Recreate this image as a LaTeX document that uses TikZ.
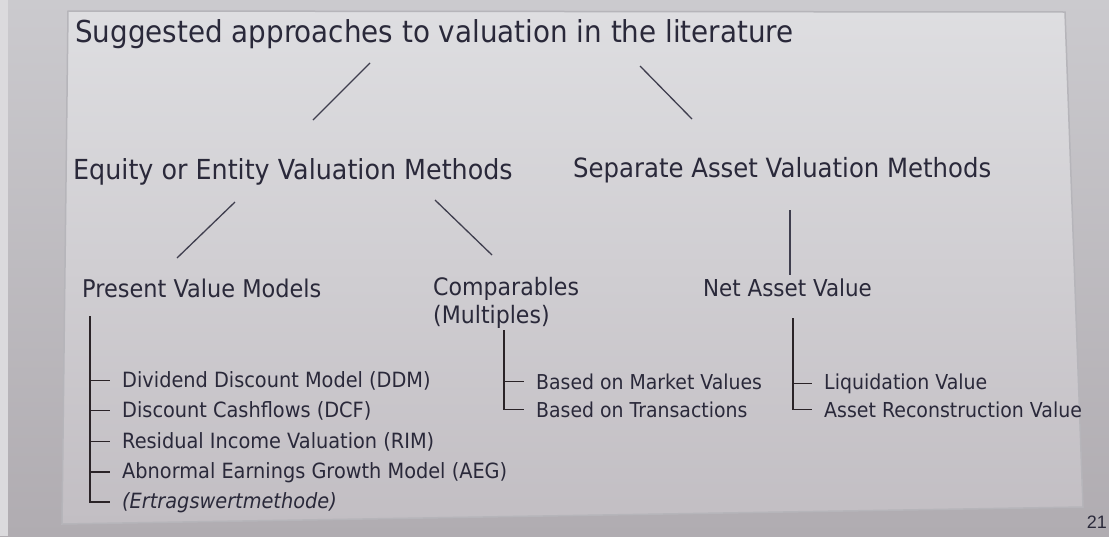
\documentclass[tikz,border=0pt]{standalone}
\usepackage{fontspec}
\setmainfont[FakeStretch=0.92]{DejaVu Sans}
\newfontfamily\pagenofont{Liberation Sans}

\definecolor{wall}{HTML}{CBCACE}
\definecolor{wallbot}{HTML}{B0ACB1}
\definecolor{slidetop}{HTML}{DEDEE1}
\definecolor{slidebot}{HTML}{C2BEC3}
\definecolor{rim}{HTML}{B6B5BA}
\definecolor{ink}{HTML}{2A293A}
\definecolor{wire}{HTML}{2A2327}

\tikzset{
    label/.style={anchor=base west, inner sep=0pt, text=ink},
    heading/.style={label, font=\fontsize{30.2}{36}\selectfont},
    method/.style={label, font=\fontsize{26.5}{32}\selectfont},
    model/.style={label, font=\fontsize{24}{29}\selectfont},
    item/.style={label, font=\fontsize{21}{25}\selectfont},
    link/.style={draw=ink!90, line width=1.3pt},
    branch/.style={draw=wire, line width=1.6pt}
}

\begin{document}
\begin{tikzpicture}[x=1pt, y=-1pt]
    \useasboundingbox (0,0) rectangle (1109,536);
    \shade[top color=wall, bottom color=wallbot] (0,0) rectangle (1109,536);
    \fill[wall!70!white] (0,0) rectangle (8,536);
    \shade[top color=slidetop, bottom color=slidebot, draw=rim, line width=1.5pt]
        (68,11) -- (1065,12) -- (1083,507) -- (62,524) -- cycle;

    \node[heading] (title) at (75,42) {Suggested approaches to valuation in the literature};

    \node[method, font=\fontsize{27.6}{32}\selectfont] (equity) at (73,179) {Equity or Entity Valuation Methods};
    \node[method] (separate) at (573,177) {Separate Asset Valuation Methods};

    \node[model, font=\fontsize{24.4}{29}\selectfont] (pvm) at (82,297) {Present Value Models};
    \node[model] (comp) at (433,295) {Comparables};
    \node[model] (mult) at (433,323) {(Multiples)};
    \node[model, font=\fontsize{23.3}{29}\selectfont] (nav) at (703,296) {Net Asset Value};

    \node[item] (ddm) at (122,387) {Dividend Discount Model (DDM)};
    \node[item] (dcf) at (122,417) {Discount Cashflows (DCF)};
    \node[item] (rim) at (122,448) {Residual Income Valuation (RIM)};
    \node[item] (aeg) at (122,478) {Abnormal Earnings Growth Model (AEG)};
    \node[item] (erw) at (122,508) {\itshape (Ertragswertmethode)};

    \node[item, font=\fontsize{20.5}{25}\selectfont] (mkt) at (536,389) {Based on Market Values};
    \node[item, font=\fontsize{20.5}{25}\selectfont] (trn) at (536,417) {Based on Transactions};

    \node[item, font=\fontsize{20.6}{25}\selectfont] (liq) at (824,389) {Liquidation Value};
    \node[item, font=\fontsize{20.6}{25}\selectfont] (arv) at (824,417) {Asset Reconstruction Value};

    \node[anchor=base east, inner sep=0pt, text=ink, font=\pagenofont\fontsize{18}{20}\selectfont]
        (pageno) at (1107,528) {21};

    \coordinate (a1) at (370,63);  \coordinate (a2) at (313,120);
    \coordinate (b1) at (640,66);  \coordinate (b2) at (692,119);
    \coordinate (c1) at (235,202); \coordinate (c2) at (177,258);
    \coordinate (d1) at (435,200); \coordinate (d2) at (492,255);
    \coordinate (e1) at (790,210); \coordinate (e2) at (790,275);
    \draw[link] (a1) -- (a2);
    \draw[link] (b1) -- (b2);
    \draw[link] (c1) -- (c2);
    \draw[link] (d1) -- (d2);
    \draw[link] (e1) -- (e2);

    \coordinate (pvtop) at (90,316);
    \coordinate (comptop) at (504,330);
    \coordinate (navtop) at (793,318);
    \draw[branch] (pvtop) |- ([xshift=-12pt]erw.west);
    \foreach \r in {ddm,dcf,rim,aeg}
        \draw[branch] ([xshift=-32pt]\r.west) -- ([xshift=-12pt]\r.west);
    \draw[branch] (comptop) |- ([xshift=-12pt]trn.west);
    \draw[branch] ([xshift=-32pt]mkt.west) -- ([xshift=-12pt]mkt.west);
    \draw[branch] (navtop) |- ([xshift=-12pt]arv.west);
    \draw[branch] ([xshift=-31pt]liq.west) -- ([xshift=-12pt]liq.west);
\end{tikzpicture}
\end{document}
